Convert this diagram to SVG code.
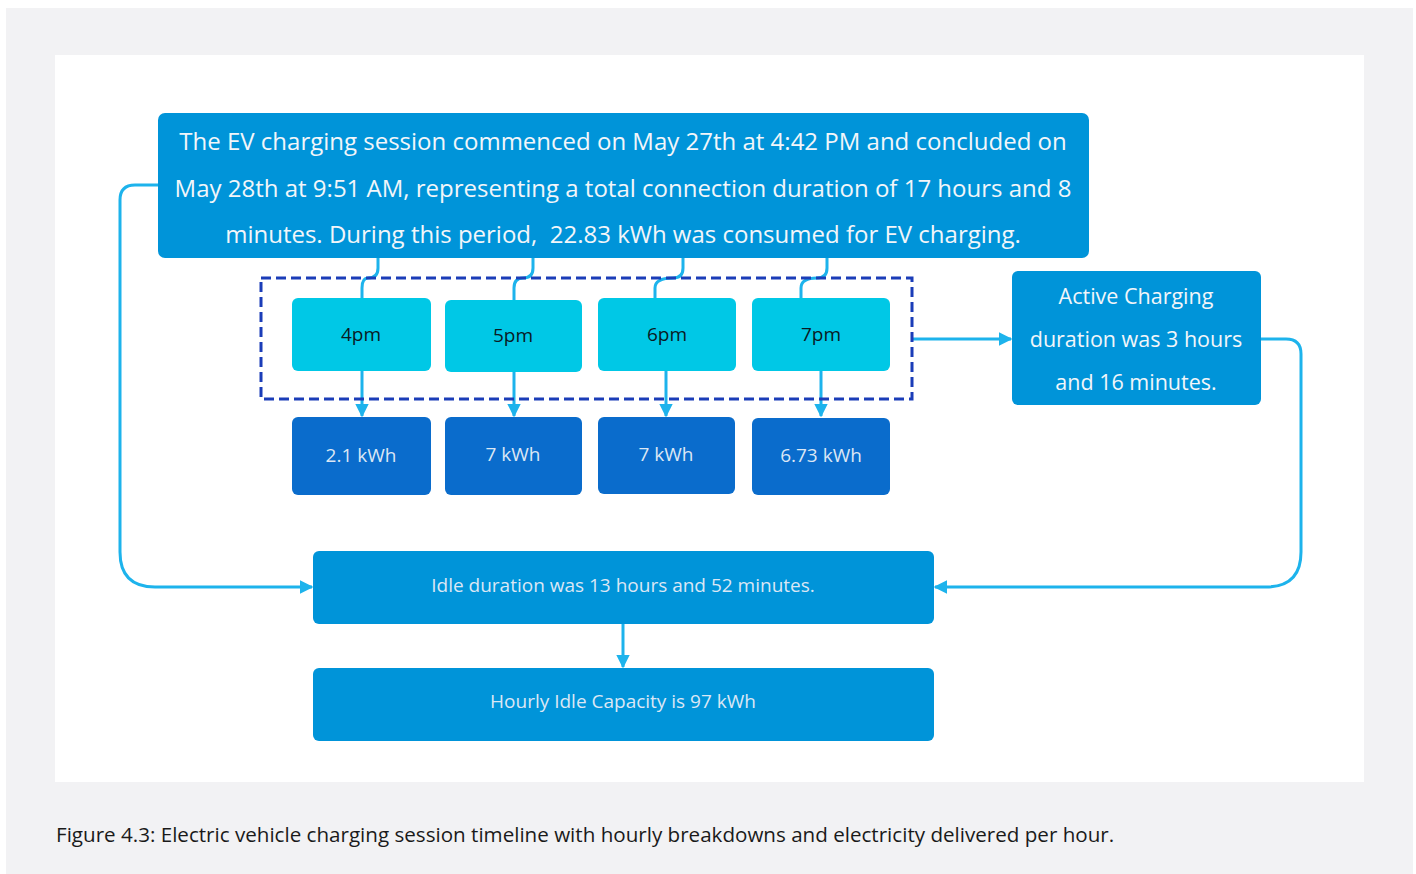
<svg xmlns="http://www.w3.org/2000/svg" width="1416" height="874" viewBox="0 0 1416 874">
<defs>
<style>
.box{fill:#0094d9}
.hour{fill:#00c8e6}
.kwh{fill:#0a6ccc}
.t{font-family:"Open Sans","Noto Sans","Liberation Sans",sans-serif;text-anchor:middle;dominant-baseline:central;white-space:pre}
.tw{fill:#f2f6fa}
.tk{fill:#0a1a24}
.tl{fill:#dbe7f5}
.c{fill:none;stroke:#1db3ec;stroke-width:3}
</style>
<marker id="ah" viewBox="0 0 10 10" refX="9" refY="5" markerWidth="4.5" markerHeight="4.5" orient="auto" markerUnits="strokeWidth">
<path d="M0,0 L10,5 L0,10 z" fill="#1db3ec"/>
</marker>
</defs>
<rect x="0" y="0" width="1416" height="874" fill="#ffffff"/>
<rect x="6" y="8" width="1407" height="866" fill="#f2f2f4"/>
<rect x="55" y="55" width="1309" height="727" fill="#ffffff"/>

<g id="connectors">
<path class="c" d="M378,258 V268 Q378,278 368,278 Q362,278 362,288 V298"/>
<path class="c" d="M533,258 V268 Q533,278 523,278 Q514,278 514,288 V300"/>
<path class="c" d="M683,258 V268 Q683,278 673,278 Q655,278 655,288 V298"/>
<path class="c" d="M827,258 V268 Q827,278 817,278 Q801,278 801,288 V298"/>
<path class="c" d="M362,371 V416" marker-end="url(#ah)"/>
<path class="c" d="M514,372 V416" marker-end="url(#ah)"/>
<path class="c" d="M666,371 V416" marker-end="url(#ah)"/>
<path class="c" d="M821,371 V416" marker-end="url(#ah)"/>
<path class="c" d="M913,339 H1011" marker-end="url(#ah)"/>
<path class="c" d="M1261,339 H1286 Q1301,339 1301,354 V552 Q1301,587 1266,587 H935" marker-end="url(#ah)"/>
<path class="c" d="M158,185 H135 Q120,185 120,200 V552 Q120,587 155,587 H312" marker-end="url(#ah)"/>
<path class="c" d="M623,624 V667" marker-end="url(#ah)"/>
</g>

<g id="group-hours">
<rect x="261" y="278" width="651" height="121" fill="none" stroke="#1b3db8" stroke-width="3" stroke-dasharray="10 5"/>
</g>

<g id="summary">
<rect class="box" x="158" y="113" width="931" height="145" rx="7"/>
<text class="t tw" font-size="24" x="623" y="140">The EV charging session commenced on May 27th at 4:42 PM and concluded on</text>
<text class="t tw" font-size="24" x="623" y="187">May 28th at 9:51 AM, representing a total connection duration of 17 hours and 8</text>
<text class="t tw" font-size="24" x="623" y="233" xml:space="preserve">minutes. During this period,  22.83 kWh was consumed for EV charging.</text>
</g>

<g id="h4"><rect class="hour" x="292" y="298" width="139" height="73" rx="6"/><text class="t tk" font-size="19" x="361" y="334">4pm</text></g>
<g id="h5"><rect class="hour" x="445" y="300" width="137" height="72" rx="6"/><text class="t tk" font-size="19" x="513" y="335">5pm</text></g>
<g id="h6"><rect class="hour" x="598" y="298" width="138" height="73" rx="6"/><text class="t tk" font-size="19" x="667" y="334">6pm</text></g>
<g id="h7"><rect class="hour" x="752" y="298" width="138" height="73" rx="6"/><text class="t tk" font-size="19" x="821" y="334">7pm</text></g>

<g id="k4"><rect class="kwh" x="292" y="417" width="139" height="78" rx="6"/><text class="t tl" font-size="19" x="361" y="455">2.1 kWh</text></g>
<g id="k5"><rect class="kwh" x="445" y="417" width="137" height="78" rx="6"/><text class="t tl" font-size="19" x="513" y="454">7 kWh</text></g>
<g id="k6"><rect class="kwh" x="598" y="417" width="137" height="77" rx="6"/><text class="t tl" font-size="19" x="666" y="454">7 kWh</text></g>
<g id="k7"><rect class="kwh" x="752" y="418" width="138" height="77" rx="6"/><text class="t tl" font-size="19" x="821" y="455">6.73 kWh</text></g>

<g id="active">
<rect class="box" x="1012" y="271" width="249" height="134" rx="6"/>
<text class="t tw" font-size="21.5" x="1136" y="295">Active Charging</text>
<text class="t tw" font-size="21.5" x="1136" y="338">duration was 3 hours</text>
<text class="t tw" font-size="21.5" x="1136" y="381">and 16 minutes.</text>
</g>

<g id="idle">
<rect class="box" x="313" y="551" width="621" height="73" rx="6"/>
<text class="t tl" font-size="19" x="623" y="585">Idle duration was 13 hours and 52 minutes.</text>
</g>

<g id="capacity">
<rect class="box" x="313" y="668" width="621" height="73" rx="6"/>
<text class="t tl" font-size="19" x="623" y="701">Hourly Idle Capacity is 97 kWh</text>
</g>

<text font-family="'Open Sans','Noto Sans','Liberation Sans',sans-serif" font-size="20.6" fill="#1a1a1a" x="56" y="842">Figure 4.3: Electric vehicle charging session timeline with hourly breakdowns and electricity delivered per hour.</text>
</svg>
